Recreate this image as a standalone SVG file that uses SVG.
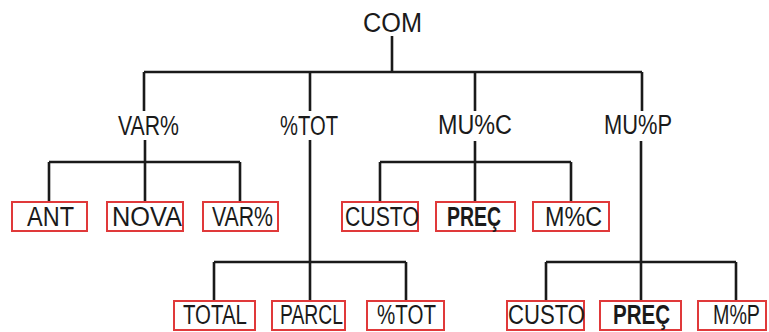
<svg xmlns="http://www.w3.org/2000/svg" width="769" height="332" viewBox="0 0 769 332">
<style>
text{font-family:"Liberation Sans",Arial,sans-serif;font-size:27px;fill:#1a1a1a}
.b{font-weight:bold}
.box{fill:none;stroke:#e0393a;stroke-width:2}
.c{fill:none;stroke:#1a1a1a;stroke-width:2.6}
</style>
<rect width="769" height="332" fill="#fff"/>
<g id="connectors" class="c">
<path d="M392,36V72M144,72H642M144,72V111M310,72V111M475,72V111M642,72V111"/>
<path d="M145,140V162M49,162H240M49,162V201M145,162V201M240,162V201"/>
<path d="M475,141V162M380,162H571M380,162V201M475,162V201M571,162V201"/>
<path d="M310,140V262M214,262H406M214,262V301M310,262V301M406,262V301"/>
<path d="M641,141V262M546,262H736M546,262V301M641,262V301M736,262V301"/>
</g>
<g id="n-com"><text x="363" y="32" textLength="59" lengthAdjust="spacingAndGlyphs">COM</text></g>
<g id="n-var"><text x="118" y="135" textLength="61" lengthAdjust="spacingAndGlyphs">VAR%</text></g>
<g id="n-tot"><text x="280" y="135" textLength="58" lengthAdjust="spacingAndGlyphs">%TOT</text></g>
<g id="n-muc"><text x="438" y="134" textLength="74" lengthAdjust="spacingAndGlyphs">MU%C</text></g>
<g id="n-mup"><text x="604" y="134" textLength="68" lengthAdjust="spacingAndGlyphs">MU%P</text></g>
<g id="n-ant"><rect class="box" x="12" y="202" width="75" height="29"/><text x="27" y="226" textLength="47" lengthAdjust="spacingAndGlyphs">ANT</text></g>
<g id="n-nova"><rect class="box" x="107" y="202" width="76" height="29"/><text x="112" y="226" textLength="70" lengthAdjust="spacingAndGlyphs">NOVA</text></g>
<g id="n-var2"><rect class="box" x="203" y="202" width="75" height="29"/><text x="212" y="226" textLength="61" lengthAdjust="spacingAndGlyphs">VAR%</text></g>
<g id="n-custo1"><rect class="box" x="342" y="202" width="76" height="29"/><text x="345" y="226" textLength="74" lengthAdjust="spacingAndGlyphs">CUSTO</text></g>
<g id="n-prec1"><rect class="box" x="436" y="202" width="79" height="29"/><text class="b" x="447" y="226" textLength="54" lengthAdjust="spacingAndGlyphs">PREÇ</text></g>
<g id="n-mc"><rect class="box" x="533" y="202" width="76" height="29"/><text x="545" y="226" textLength="57" lengthAdjust="spacingAndGlyphs">M%C</text></g>
<g id="n-total"><rect class="box" x="174" y="301" width="81" height="29"/><text x="183" y="324" textLength="64" lengthAdjust="spacingAndGlyphs">TOTAL</text></g>
<g id="n-parcl"><rect class="box" x="272" y="301" width="73" height="29"/><text x="280" y="324" textLength="63" lengthAdjust="spacingAndGlyphs">PARCL</text></g>
<g id="n-tot2"><rect class="box" x="367" y="301" width="77" height="29"/><text x="377" y="324" textLength="59" lengthAdjust="spacingAndGlyphs">%TOT</text></g>
<g id="n-custo2"><rect class="box" x="507" y="301" width="77" height="29"/><text x="508" y="324" textLength="77" lengthAdjust="spacingAndGlyphs">CUSTO</text></g>
<g id="n-prec2"><rect class="box" x="600" y="301" width="81" height="29"/><text class="b" x="613" y="324" textLength="57" lengthAdjust="spacingAndGlyphs">PREÇ</text></g>
<g id="n-mp"><rect class="box" x="698" y="301" width="68" height="29"/><text x="713" y="324" textLength="47" lengthAdjust="spacingAndGlyphs">M%P</text></g>
</svg>
